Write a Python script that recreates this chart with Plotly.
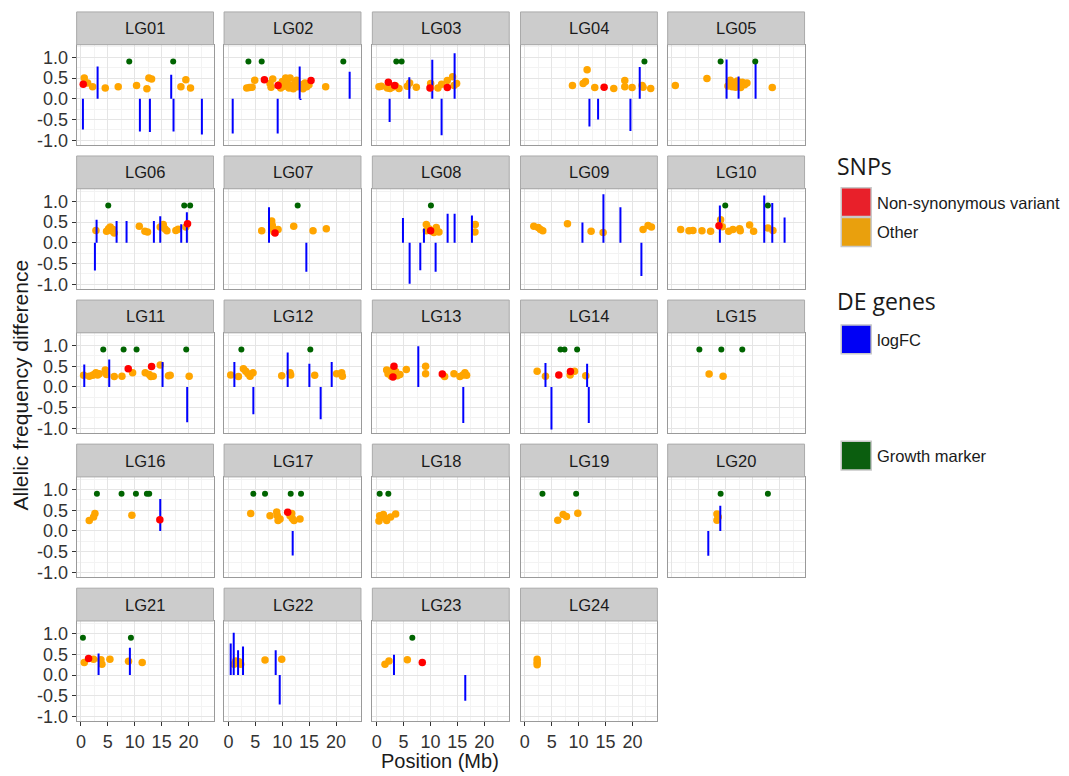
import plotly.graph_objects as go

# ---------------- data ----------------
PANELS = ["LG%02d" % i for i in range(1, 25)]

OTHER_POS = {
    "LG01": [0.62, 1.24, 2.17, 4.52, 6.93, 10.34, 12.26, 12.63, 13.13, 18.58, 19.5, 20.37],
    "LG02": [3.41, 3.9, 4.4, 4.89, 7.74, 7.93, 8.24, 9.41, 9.72, 10.03, 10.34, 10.65, 10.96, 11.27, 11.46,
             11.7, 12.07, 12.38, 12.69, 12.94, 13.56, 13.87, 14.24, 14.55, 14.98, 18.08],
    "LG03": [0.43, 0.87, 1.98, 2.48, 2.91, 3.53, 4.15, 5.7, 6.13, 7.37, 10.03, 11.39, 12.07, 13.13, 14.12, 14.37, 14.86],
    "LG04": [8.85, 10.84, 11.27, 11.58, 13.0, 16.53, 18.58, 18.58, 19.94, 21.8, 21.98, 23.4],
    "LG05": [0.62, 6.5, 10.4, 10.84, 11.2, 11.46, 11.83, 12.14, 12.45, 12.76, 13.07, 13.5, 13.93, 18.64],
    "LG06": [2.79, 4.77, 5.14, 5.45, 5.7, 6.0, 6.19, 10.84, 11.89, 12.38, 14.74, 15.3, 15.6, 15.98, 17.65, 18.08, 19.5],
    "LG07": [6.19, 8.05, 8.17, 8.3, 8.48, 9.23, 12.14, 15.73, 18.2],
    "LG08": [9.23, 9.23, 9.72, 10.65, 11.08, 11.58, 18.33, 18.27],
    "LG09": [1.67, 2.48, 2.91, 3.34, 7.93, 12.32, 14.55, 21.98, 22.91, 23.53],
    "LG10": [1.61, 3.16, 3.9, 5.57, 7.18, 8.85, 9.04, 9.35, 10.53, 11.33, 12.57, 12.69, 14.43, 15.17, 17.83, 18.76],
    "LG11": [0.5, 1.55, 2.17, 2.48, 2.79, 3.1, 3.41, 4.52, 4.77, 6.19, 7.62, 9.6, 11.95, 12.69, 13.0, 13.44,
             14.74, 16.28, 16.59, 20.12],
    "LG12": [0.43, 1.86, 2.79, 3.22, 3.65, 4.02, 4.58, 9.91, 11.46, 11.58, 16.04, 20.12, 21.05, 21.18],
    "LG13": [1.86, 2.11, 2.48, 2.72, 3.03, 3.22, 3.53, 3.84, 4.33, 5.51, 9.1, 9.1, 12.63, 14.37, 15.48, 16.04, 16.41, 16.72],
    "LG14": [2.29, 3.84, 8.42, 9.23, 11.33],
    "LG15": [6.9, 9.5],
    "LG16": [1.55, 2.35, 2.6, 9.47],
    "LG17": [4.15, 7.74, 8.98, 9.1, 9.23, 9.6, 11.46, 11.77, 11.89, 12.2, 13.31],
    "LG18": [0.56, 0.43, 1.24, 1.49, 1.86, 2.6, 3.53],
    "LG19": [6.13, 7.12, 7.74, 9.85],
    "LG20": [8.36, 8.36, 8.6],
    "LG21": [0.62, 2.35, 3.72, 3.9, 5.39, 8.85, 11.39],
    "LG22": [1.05, 1.36, 1.67, 1.98, 2.29, 6.81, 9.91],
    "LG23": [1.55, 2.29, 5.7],
    "LG24": [2.29, 2.29, 2.29],
}
OTHER_AF = {
    "LG01": [0.50, 0.38, 0.29, 0.26, 0.29, 0.32, 0.24, 0.50, 0.48, 0.29, 0.46, 0.26],
    "LG02": [0.26, 0.27, 0.28, 0.45, 0.37, 0.28, 0.48, 0.34, 0.26, 0.42, 0.30, 0.50, 0.37, 0.26, 0.50,
             0.32, 0.24, 0.38, 0.45, 0.29, 0.34, 0.24, 0.38, 0.29, 0.34, 0.29],
    "LG03": [0.29, 0.30, 0.26, 0.25, 0.28, 0.31, 0.25, 0.30, 0.38, 0.28, 0.37, 0.26, 0.35, 0.44, 0.53, 0.32, 0.37],
    "LG04": [0.32, 0.37, 0.42, 0.70, 0.27, 0.25, 0.44, 0.29, 0.27, 0.32, 0.28, 0.25],
    "LG05": [0.32, 0.49, 0.31, 0.45, 0.29, 0.38, 0.28, 0.43, 0.34, 0.27, 0.40, 0.34, 0.38, 0.27],
    "LG06": [0.30, 0.28, 0.34, 0.38, 0.29, 0.32, 0.24, 0.40, 0.28, 0.26, 0.38, 0.44, 0.34, 0.29, 0.30, 0.33, 0.38],
    "LG07": [0.29, 0.53, 0.42, 0.32, 0.26, 0.32, 0.40, 0.29, 0.34],
    "LG08": [0.44, 0.29, 0.34, 0.25, 0.37, 0.26, 0.44, 0.26],
    "LG09": [0.40, 0.37, 0.32, 0.29, 0.46, 0.28, 0.25, 0.32, 0.42, 0.38],
    "LG10": [0.32, 0.29, 0.30, 0.29, 0.28, 0.41, 0.56, 0.39, 0.28, 0.32, 0.34, 0.29, 0.43, 0.28, 0.36, 0.30],
    "LG11": [0.28, 0.26, 0.28, 0.30, 0.34, 0.29, 0.32, 0.41, 0.30, 0.25, 0.26, 0.34, 0.34, 0.30, 0.25, 0.26,
             0.53, 0.27, 0.28, 0.26],
    "LG12": [0.29, 0.25, 0.44, 0.38, 0.32, 0.26, 0.34, 0.27, 0.34, 0.29, 0.28, 0.32, 0.34, 0.26],
    "LG13": [0.41, 0.32, 0.37, 0.26, 0.42, 0.30, 0.37, 0.27, 0.30, 0.42, 0.50, 0.32, 0.25, 0.32, 0.25, 0.29, 0.34, 0.28],
    "LG14": [0.38, 0.26, 0.29, 0.38, 0.27],
    "LG15": [0.31, 0.26],
    "LG16": [0.25, 0.34, 0.42, 0.38],
    "LG17": [0.42, 0.37, 0.46, 0.37, 0.25, 0.29, 0.37, 0.42, 0.30, 0.25, 0.29],
    "LG18": [0.37, 0.24, 0.40, 0.32, 0.25, 0.34, 0.41],
    "LG19": [0.26, 0.40, 0.35, 0.43],
    "LG20": [0.41, 0.26, 0.34],
    "LG21": [0.30, 0.38, 0.37, 0.26, 0.38, 0.33, 0.30],
    "LG22": [0.26, 0.34, 0.30, 0.32, 0.26, 0.36, 0.38],
    "LG23": [0.26, 0.34, 0.37],
    "LG24": [0.38, 0.25, 0.31],
}
NONSYN_POS = {
    "LG01": [0.43], "LG02": [6.69, 9.23, 15.36], "LG03": [2.17, 3.34, 9.91, 13.13], "LG04": [14.74],
    "LG06": [19.81], "LG07": [8.67], "LG08": [10.03], "LG10": [8.73], "LG11": [8.79, 13.13],
    "LG13": [3.22, 3.03, 12.2], "LG14": [6.32, 8.48], "LG16": [14.67], "LG17": [11.02],
    "LG21": [1.42], "LG23": [8.48],
}
NONSYN_AF = {
    "LG01": [0.35], "LG02": [0.46, 0.32, 0.44], "LG03": [0.40, 0.32, 0.26, 0.27], "LG04": [0.28],
    "LG06": [0.46], "LG07": [0.24], "LG08": [0.29], "LG10": [0.41], "LG11": [0.44, 0.49],
    "LG13": [0.50, 0.24, 0.31], "LG14": [0.29, 0.37], "LG16": [0.27], "LG17": [0.45],
    "LG21": [0.40], "LG23": [0.30],
}
DE_POS = {
    "LG01": [0.37, 3.1, 10.96, 12.82, 16.78, 17.21, 22.48],
    "LG02": [0.8, 9.16, 13.25, 13.4, 22.54],
    "LG03": [2.41, 6.07, 10.34, 12.07, 14.49],
    "LG04": [12.01, 13.62, 19.63, 21.36],
    "LG05": [10.15, 12.38, 15.54],
    "LG06": [2.6, 2.91, 6.63, 8.48, 13.56, 14.74, 18.64, 19.69],
    "LG07": [7.55, 14.49],
    "LG08": [4.89, 6.13, 8.11, 8.79, 10.96, 13.19, 14.49, 17.71],
    "LG09": [10.71, 14.61, 17.77, 21.67],
    "LG10": [8.9, 17.15, 18.64, 20.93],
    "LG11": [0.62, 5.26, 15.17, 19.75],
    "LG12": [1.11, 4.64, 11.02, 15.05, 17.15, 19.2],
    "LG13": [7.74, 16.1],
    "LG14": [3.84, 4.95, 11.58, 11.89],
    "LG16": [14.74],
    "LG17": [11.95],
    "LG20": [6.75, 8.98],
    "LG21": [3.28, 9.1],
    "LG22": [0.43, 0.99, 1.8, 2.72, 8.79, 9.54],
    "LG23": [3.22, 16.47],
}
DE_LOGFC = {
    "LG01": [-0.74, 0.78, -0.79, -0.80, 0.58, -0.79, -0.86],
    "LG02": [-0.84, -0.84, 0.78, -0.03, 0.65],
    "LG03": [-0.56, 0.52, 0.94, -0.88, 1.10],
    "LG04": [-0.67, -0.50, -0.78, 0.77],
    "LG05": [0.95, 0.54, 0.92],
    "LG06": [-0.67, 0.56, 0.53, 0.53, 0.53, 0.64, 0.45, 0.74],
    "LG07": [0.86, -0.70],
    "LG08": [0.60, -0.99, -0.66, 0.34, -0.70, 0.70, 0.70, 0.66],
    "LG09": [0.49, 1.17, 0.86, -0.80],
    "LG10": [0.90, 1.14, 0.96, 0.61],
    "LG11": [0.54, 0.66, 0.60, -0.85],
    "LG12": [0.60, -0.66, 0.83, 0.56, -0.78, 0.60],
    "LG13": [0.98, -0.87],
    "LG14": [0.58, -1.03, 0.56, -0.87],
    "LG16": [0.77],
    "LG17": [-0.59],
    "LG20": [-0.60, 0.61],
    "LG21": [0.52, 0.66],
    "LG22": [0.76, 1.02, 0.60, 0.69, 0.60, -0.71],
    "LG23": [0.49, -0.62],
}
GROWTH_POS = {
    "LG01": [8.98, 17.15], "LG02": [3.72, 6.19, 21.36], "LG03": [3.65, 4.64], "LG04": [22.23],
    "LG05": [9.04, 15.48], "LG06": [5.08, 19.2, 20.3], "LG07": [12.88], "LG08": [10.09],
    "LG10": [9.9, 17.83], "LG11": [4.15, 7.93, 10.34, 19.57], "LG12": [2.41, 15.23],
    "LG14": [6.63, 7.37, 9.72], "LG15": [5.09, 9.17, 13.07], "LG16": [2.97, 7.55, 10.22, 12.26, 12.69],
    "LG17": [4.64, 6.81, 11.58, 13.5], "LG18": [0.56, 2.17], "LG19": [3.28, 9.54],
    "LG20": [9.04, 17.83], "LG21": [0.37, 9.29], "LG23": [6.63],
}
GROWTH_LEVEL = 0.9

X_TICKS = [0, 5, 10, 15, 20]
X_TICK_TEXT = ["0", "5", "10", "15", "20"]
X_MINOR = [2.5, 7.5, 12.5, 17.5, 22.5]
Y_TICKS = [-1.0, -0.5, 0.0, 0.5, 1.0]
Y_TICK_TEXT = ["-1.0", "-0.5", "0.0", "0.5", "1.0"]
Y_MINOR = [-0.75, -0.25, 0.25, 0.75, 1.25]

# ---------------- layout constants ----------------
W, H = 1069, 776
COL_LEFT = [75.7, 223.3, 371.7, 520.0, 667.3]
ROW_TOP = [45, 190, 335, 480, 625]
PW, PH, SH = 137, 101, 33
XR = [-0.80, 24.64]
YR = [-1.117, 1.305]
FONT = "Liberation Sans, Arial, sans-serif"

C_OTHER = "#FFA500"
C_NONSYN = "#FF0000"
C_DE = "#0000FF"
C_GROWTH = "#006400"

fig = go.Figure()
shapes, annots = [], []
layout_axes = {}

for i, lg in enumerate(PANELS):
    r, c = divmod(i, 5)
    n = i + 1
    xa = "x" if n == 1 else "x%d" % n
    ya = "y" if n == 1 else "y%d" % n
    left, top = COL_LEFT[c], ROW_TOP[r]
    xdom = [left / W, (left + PW) / W]
    ydom = [1 - (top + PH) / H, 1 - top / H]

    show_x = (r == 4)
    show_y = (c == 0)
    layout_axes["xaxis" if n == 1 else "xaxis%d" % n] = dict(
        domain=xdom, anchor=ya, range=XR, tickmode="array", tickvals=X_TICKS, ticktext=X_TICK_TEXT,
        showticklabels=show_x, ticks="outside" if show_x else "", ticklen=4, tickcolor="#333333",
        tickfont=dict(family=FONT, size=18, color="#333333"),
        showgrid=True, gridcolor="#E5E5E5", gridwidth=1, zeroline=False,
        showline=True, mirror=True, linecolor="#9a9a9a", linewidth=1,
        minor=dict(tickvals=X_MINOR, showgrid=True, gridcolor="#F3F3F3", gridwidth=1, ticks=""),
        fixedrange=True,
    )
    layout_axes["yaxis" if n == 1 else "yaxis%d" % n] = dict(
        domain=ydom, anchor=xa, range=YR, tickmode="array", tickvals=Y_TICKS, ticktext=Y_TICK_TEXT,
        showticklabels=show_y, ticks="outside" if show_y else "", ticklen=4, tickcolor="#333333",
        tickfont=dict(family=FONT, size=18, color="#333333"),
        showgrid=True, gridcolor="#E5E5E5", gridwidth=1, zeroline=False,
        showline=True, mirror=True, linecolor="#9a9a9a", linewidth=1,
        minor=dict(tickvals=Y_MINOR, showgrid=True, gridcolor="#F3F3F3", gridwidth=1, ticks=""),
        fixedrange=True,
    )

    # strip
    shapes.append(dict(type="rect", xref="paper", yref="paper",
                       x0=left / W, x1=(left + PW) / W, y0=1 - top / H, y1=1 - (top - SH) / H,
                       fillcolor="#CCCCCC", line=dict(color="#AAAAAA", width=1), layer="above"))
    annots.append(dict(text=lg, xref="paper", yref="paper", x=(left + PW / 2) / W, y=1 - (top - SH / 2) / H,
                       showarrow=False, xanchor="center", yanchor="middle",
                       font=dict(family=FONT, size=16.5, color="#1a1a1a")))

    # other SNPs
    if OTHER_POS.get(lg):
        fig.add_trace(go.Scatter(x=OTHER_POS[lg], y=OTHER_AF[lg], mode="markers", xaxis=xa, yaxis=ya,
                                 marker=dict(color=C_OTHER, size=7.5, line=dict(width=0)),
                                 showlegend=False, hoverinfo="skip"))
    # DE genes as segments from 0 to logFC
    if DE_POS.get(lg):
        sx, sy = [], []
        for p, v in zip(DE_POS[lg], DE_LOGFC[lg]):
            sx += [p, p, None]
            sy += [0, v, None]
        fig.add_trace(go.Scatter(x=sx, y=sy, mode="lines", xaxis=xa, yaxis=ya,
                                 line=dict(color=C_DE, width=2), showlegend=False, hoverinfo="skip"))
    # non-synonymous SNPs
    if NONSYN_POS.get(lg):
        fig.add_trace(go.Scatter(x=NONSYN_POS[lg], y=NONSYN_AF[lg], mode="markers", xaxis=xa, yaxis=ya,
                                 marker=dict(color=C_NONSYN, size=7.5, line=dict(width=0)),
                                 showlegend=False, hoverinfo="skip"))
    # growth markers
    if GROWTH_POS.get(lg):
        fig.add_trace(go.Scatter(x=GROWTH_POS[lg], y=[GROWTH_LEVEL] * len(GROWTH_POS[lg]), mode="markers",
                                 xaxis=xa, yaxis=ya, marker=dict(color=C_GROWTH, size=6, line=dict(width=0)),
                                 showlegend=False, hoverinfo="skip"))

# axis titles
annots.append(dict(text="Position (Mb)", xref="paper", yref="paper", x=439.5 / W, y=1 - 766 / H,
                   showarrow=False, xanchor="center", yanchor="middle",
                   font=dict(family=FONT, size=20, color="#1a1a1a")))
annots.append(dict(text="Allelic frequency difference", xref="paper", yref="paper", x=20 / W, y=1 - 387 / H,
                   showarrow=False, xanchor="center", yanchor="middle", textangle=-90,
                   font=dict(family=FONT, size=21, color="#1a1a1a")))

# legend (drawn manually)
def px(x):
    return x / W

def py(y):
    return 1 - y / H

LEG_TITLE_FONT = dict(family="Open Sans, Lato, sans-serif", size=23, color="#1a1a1a")
LEG_TEXT_FONT = dict(family=FONT, size=16.5, color="#1a1a1a")
legend_titles = [("SNPs", 167), ("DE genes", 303)]
legend_keys = [("Non-synonymous variant", "#E8202A", 189), ("Other", "#E9A00D", 219),
               ("logFC", "#0000F5", 327), ("Growth marker", "#0B5E0F", 444)]
for t, yc in legend_titles:
    annots.append(dict(text=t, xref="paper", yref="paper", x=px(835), y=py(yc), showarrow=False,
                       xanchor="left", yanchor="middle", font=LEG_TITLE_FONT))
for t, col, y0 in legend_keys:
    shapes.append(dict(type="rect", xref="paper", yref="paper", x0=px(841), x1=px(871), y0=py(y0 + 29), y1=py(y0),
                       fillcolor=col, line=dict(color="#C8C8C8", width=1.5)))
    annots.append(dict(text=t, xref="paper", yref="paper", x=px(875), y=py(y0 + 15), showarrow=False,
                       xanchor="left", yanchor="middle", font=LEG_TEXT_FONT))

fig.update_layout(
    width=W, height=H, margin=dict(l=0, r=0, t=0, b=0),
    paper_bgcolor="white", plot_bgcolor="white",
    shapes=shapes, annotations=annots, showlegend=False,
    **layout_axes,
)

fig.write_html("out.html", config={"displayModeBar": False},
               post_script="document.body.style.margin='0';document.body.style.overflow='hidden';")
